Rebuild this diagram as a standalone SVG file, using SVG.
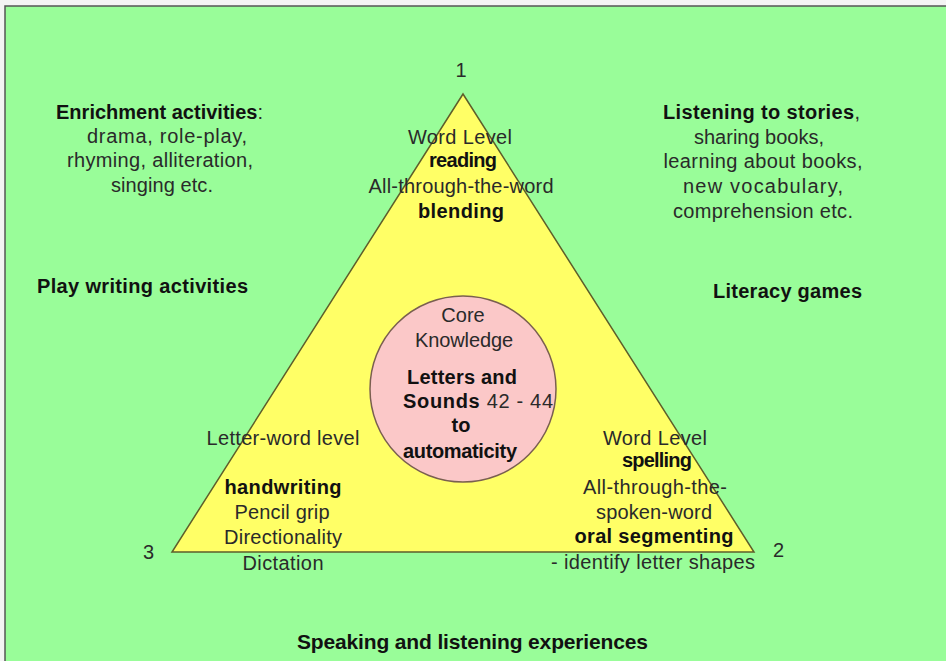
<svg xmlns="http://www.w3.org/2000/svg" width="946" height="661" viewBox="0 0 946 661">
<style>
  text { font-family: "Liberation Sans", Arial, sans-serif; font-size: 20px; fill: #2a2a2a; }
  .b { font-weight: bold; fill: #111; }
  .m { text-anchor: middle; }
  .big { font-size: 21px; }
</style>
<rect x="0" y="0" width="946" height="661" fill="#f4f4f4"/>
<rect id="frame" x="5" y="6" width="960" height="700" fill="#99fd99" stroke="#555" stroke-width="1.5"/>

<g id="triangle">
  <polygon points="463,94 754,552 172,552" fill="#ffff66" stroke="#5e5e2a" stroke-width="1.5"/>
</g>
<g id="core">
  <circle cx="463" cy="389" r="93" fill="#fbc8c8" stroke="#7a5f50" stroke-width="1.5"/>
  <text class="m" x="463" y="322">Core</text>
  <text class="m" x="464" y="347" textLength="98">Knowledge</text>
  <text class="m b" x="462" y="384" textLength="110">Letters and</text>
  <text x="403" y="408" textLength="150"><tspan class="b">Sounds</tspan> 42 - 44</text>
  <text class="m b" x="461" y="432">to</text>
  <text class="m b" x="460" y="458" textLength="114">automaticity</text>
</g>

<g id="vertex1">
  <text class="m" x="461" y="77">1</text>
  <text class="m" x="460" y="144" textLength="104">Word Level</text>
  <text class="m b" x="463" y="167" textLength="68">reading</text>
  <text class="m" x="461" y="193" textLength="185">All-through-the-word</text>
  <text class="m b" x="461" y="218" textLength="86">blending</text>
</g>

<g id="vertex3">
  <text x="143" y="559">3</text>
  <text class="m" x="283" y="445" textLength="153">Letter-word level</text>
  <text class="m b" x="283" y="494" textLength="117">handwriting</text>
  <text class="m" x="282" y="519" textLength="95">Pencil grip</text>
  <text class="m" x="283" y="544" textLength="118">Directionality</text>
  <text class="m" x="283" y="570" textLength="81">Dictation</text>
</g>

<g id="vertex2">
  <text x="773" y="557">2</text>
  <text class="m" x="655" y="445" textLength="104">Word Level</text>
  <text class="m b" x="657" y="467" textLength="70">spelling</text>
  <text class="m" x="655" y="494" textLength="144">All-through-the-</text>
  <text class="m" x="654" y="519" textLength="116">spoken-word</text>
  <text class="m b" x="654" y="543" textLength="159">oral segmenting</text>
  <text x="551" y="569" textLength="204">- identify letter shapes</text>
</g>

<g id="enrichment">
  <text x="56" y="119" textLength="207"><tspan class="b">Enrichment activities</tspan>:</text>
  <text class="m" x="167" y="143" textLength="160">drama, role-play,</text>
  <text class="m" x="160" y="167" textLength="186">rhyming, alliteration,</text>
  <text class="m" x="162" y="192" textLength="102">singing etc.</text>
</g>

<g id="listening">
  <text x="663" y="119" textLength="197"><tspan class="b">Listening to stories</tspan>,</text>
  <text class="m" x="759" y="144" textLength="130">sharing books,</text>
  <text class="m" x="763" y="168" textLength="199">learning about books,</text>
  <text class="m" x="763" y="193" textLength="160">new vocabulary,</text>
  <text class="m" x="763" y="218" textLength="180">comprehension etc.</text>
</g>

<g id="play-writing">
  <text class="b" x="37" y="293" textLength="211">Play writing activities</text>
</g>
<g id="literacy-games">
  <text class="b" x="713" y="298" textLength="149">Literacy games</text>
</g>
<g id="speaking">
  <text class="b big" x="297" y="649" textLength="351">Speaking and listening experiences</text>
</g>
<g id="connectors"></g>
</svg>
